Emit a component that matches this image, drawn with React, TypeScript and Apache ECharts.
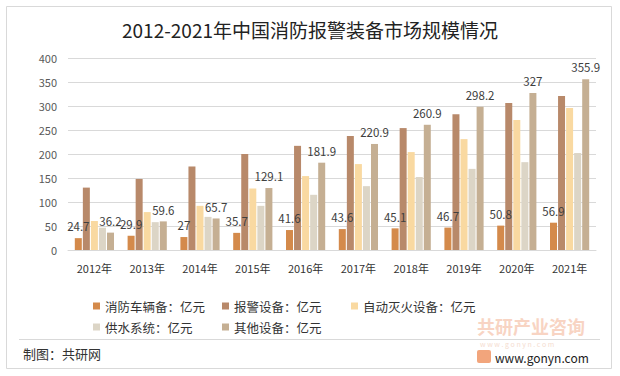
import React, { useEffect, useRef } from "react";
import * as echarts from "echarts";

const years = ["2012年", "2013年", "2014年", "2015年", "2016年", "2017年", "2018年", "2019年", "2020年", "2021年"];
const seriesNames = ["消防车辆备：亿元", "报警设备：亿元", "自动灭火设备：亿元", "供水系统：亿元", "其他设备：亿元"];
const vehicle = [24.7, 29.9, 27, 35.7, 41.6, 43.6, 45.1, 46.7, 50.8, 56.9];
const alarm = [130, 148, 174, 200, 217, 237.5, 254, 283, 306, 321];
const autoExt = [60.4, 79, 92, 128, 154, 179, 204, 231, 271, 296];
const water = [46.5, 58, 69, 92, 115, 133, 152, 169, 183, 202];
const other = [36.2, 59.6, 65.7, 129.1, 181.9, 220.9, 260.9, 298.2, 327, 355.9];
const colors = ["#D48A4B", "#B8896A", "#F9D9A1", "#DCD5C6", "#C5AF93"];
const yTicks = { min: 0, max: 400, interval: 50 };

const FONT = '"Noto Sans CJK SC", "Noto Sans", sans-serif';

export default function App() {
  const ref = useRef<HTMLDivElement>(null);
  useEffect(() => {
    document.body.style.margin = "0";
    const chart = echarts.init(ref.current!, null, { renderer: "svg" });
    const values = [vehicle, alarm, autoExt, water, other];
    const labelled = [true, false, false, false, true];
    const legendText = { fontSize: 12.5, color: "#333", fontFamily: FONT, lineHeight: 14 };
    const legendBase = {
      orient: "vertical",
      top: 294,
      itemWidth: 7,
      itemHeight: 7,
      itemGap: 7,
      icon: "rect",
      textStyle: legendText,
      selectedMode: false,
    };
    chart.setOption({
      animation: false,
      backgroundColor: "#fff",
      textStyle: { fontFamily: FONT },
      title: {
        text: "2012-2021年中国消防报警装备市场规模情况",
        left: "center",
        top: 15,
        textStyle: { fontSize: 19, fontWeight: "normal", color: "#222", fontFamily: FONT },
      },
      grid: { left: 68, right: 24, top: 58, bottom: 126 },
      legend: [
        { ...legendBase, left: 88, data: [seriesNames[0], seriesNames[3]] },
        { ...legendBase, left: 217, data: [seriesNames[1], seriesNames[4]] },
        { ...legendBase, left: 346, data: [seriesNames[2]] },
      ],
      xAxis: {
        type: "category",
        data: years,
        axisLine: { lineStyle: { color: "#D9D9D9" } },
        axisTick: { show: false },
        axisLabel: { fontSize: 11, color: "#333", margin: 12 },
      },
      yAxis: {
        type: "value",
        min: yTicks.min,
        max: yTicks.max,
        interval: yTicks.interval,
        axisLine: { show: false },
        axisTick: { show: false },
        axisLabel: { fontSize: 11, color: "#595959", margin: 11 },
        splitLine: { lineStyle: { color: "#D9D9D9" } },
      },
      series: seriesNames.map((name, i) => ({
        name,
        type: "bar",
        data: values[i],
        barWidth: 7,
        barGap: "15%",
        itemStyle: { color: colors[i] },
        label: labelled[i]
          ? { show: true, position: "top", distance: 6, fontSize: 11.5, color: "#404040" }
          : { show: false },
      })),
      graphic: [
        {
          type: "rect",
          shape: { x: 6.5, y: 6.5, width: 605, height: 362 },
          style: { fill: "none", stroke: "#D9D9D9", lineWidth: 1 },
          silent: true,
        },
        {
          type: "line",
          shape: { x1: 19, y1: 339.5, x2: 600, y2: 339.5 },
          style: { stroke: "#D9D9D9", lineWidth: 1 },
          silent: true,
        },
        {
          type: "text",
          x: 23,
          y: 353,
          style: { text: "制图：共研网", fontSize: 13, fill: "#333", fontFamily: FONT, verticalAlign: "middle" },
        },
        {
          type: "text",
          x: 477,
          y: 326,
          style: { text: "共研产业咨询", fontSize: 18, fontWeight: "bold", fill: "#F8D4C3", fontFamily: FONT, verticalAlign: "middle", lineHeight: 16 },
        },
        {
          type: "text",
          x: 480,
          y: 344,
          style: { text: "w w w . g o n y n . c o m", fontSize: 7, fill: "#F5DDD0", fontFamily: FONT, verticalAlign: "middle", lineHeight: 7 },
        },
        {
          type: "rect",
          shape: { x: 477, y: 350, width: 14, height: 13, r: 2 },
          style: { fill: "#F2A57C" },
        },
        {
          type: "text",
          x: 495,
          y: 357,
          style: { text: "www.gonyn.com", fontSize: 12, fill: "#222", fontFamily: FONT, verticalAlign: "middle", lineHeight: 12 },
        },
      ],
    } as any);
    return () => chart.dispose();
  }, []);
  return <div ref={ref} style={{ width: 620, height: 376, position: "absolute", left: 0, top: 0 }} />;
}
